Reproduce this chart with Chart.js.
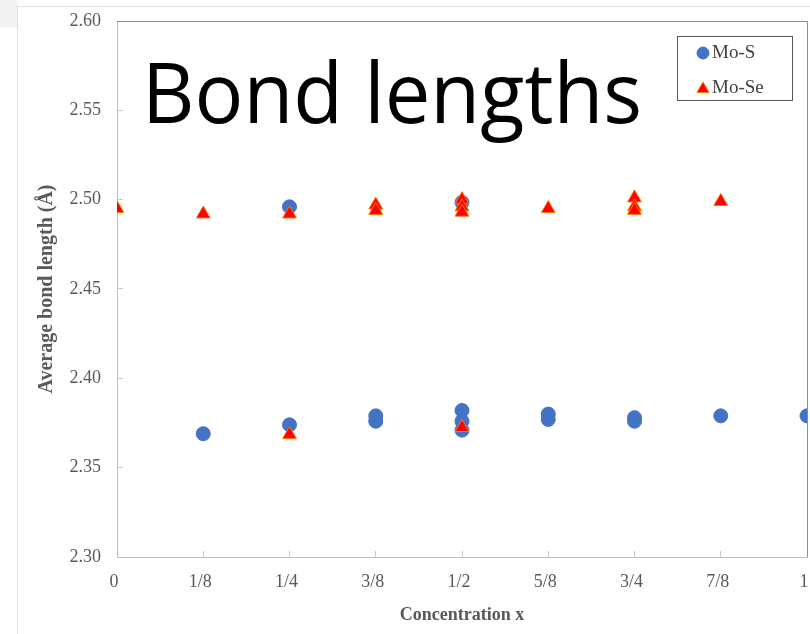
<!DOCTYPE html>
<html>
<head>
<meta charset="utf-8">
<script src="https://cdn.jsdelivr.net/npm/chart.js@4/dist/chart.umd.min.js"></script>
<style>
  html, body { margin: 0; padding: 0; background: #fff; }
  canvas { display: block; }
</style>
</head>
<body>
<canvas id="grafico" width="810" height="634"></canvas>
<script>
// ----------- DATOS ----------
const xTickLabels = ["0", "1/8", "1/4", "3/8", "1/2", "5/8", "3/4", "7/8", "1"];

// Mo-S (circulos azules)
const moSx = [0.125, 0.25, 0.25, 0.375, 0.375, 0.5, 0.5, 0.5, 0.5, 0.625, 0.625, 0.75, 0.75, 0.875, 1];
const moSy = [2.369, 2.374, 2.496, 2.379, 2.376, 2.382, 2.376, 2.371, 2.4985, 2.380, 2.377, 2.378, 2.376, 2.379, 2.379];

// Mo-Se (triangulos rojos)
const moSeX = [0, 0.125, 0.25, 0.25, 0.375, 0.375, 0.5, 0.5, 0.5, 0.5, 0.625, 0.75, 0.75, 0.75, 0.875];
const moSeY = [2.495, 2.492, 2.492, 2.3685, 2.497, 2.494, 2.500, 2.496, 2.493, 2.3725, 2.495, 2.501, 2.496, 2.494, 2.499];

const toPoints = (xs, ys) => xs.map((x, i) => ({ x: x, y: ys[i] }));

const serif = "'Liberation Serif', 'Times New Roman', serif";

// ----------- PLUGINS ----------
const decoracion = {
    id: "decoracion",
    beforeDraw(chart) {
        const ctx = chart.ctx;
        ctx.save();
        ctx.fillStyle = "#f3f3f3";
        ctx.fillRect(0, 0, 18, 28);
        ctx.strokeStyle = "#e2e2e2";
        ctx.lineWidth = 1;
        ctx.beginPath();
        ctx.moveTo(18, 6.5); ctx.lineTo(810, 6.5);
        ctx.moveTo(17.5, 6); ctx.lineTo(17.5, 634);
        ctx.stroke();
        ctx.restore();
    },
    afterDatasetsDraw(chart) {
        const ctx = chart.ctx;
        const a = chart.chartArea;
        ctx.save();
        // marco superior y derecho
        ctx.strokeStyle = "#8c8c8c";
        ctx.lineWidth = 1;
        ctx.beginPath();
        ctx.moveTo(a.left, a.top + 0.5); ctx.lineTo(a.right + 0.5, a.top + 0.5);
        ctx.lineTo(a.right + 0.5, a.bottom);
        ctx.stroke();

        // leyenda con borde
        const lx = 677, ly = 36, lw = 115, lh = 64;
        ctx.fillStyle = "#fff";
        ctx.fillRect(lx, ly, lw, lh);
        ctx.strokeStyle = "#595959";
        ctx.strokeRect(lx + 0.5, ly + 0.5, lw, lh);
        const rows = [53, 88];
        chart.data.datasets.forEach((ds, i) => {
            ctx.fillStyle = ds.backgroundColor;
            ctx.strokeStyle = ds.borderColor;
            ctx.lineWidth = 1;
            Chart.helpers.drawPoint(ctx, {
                pointStyle: ds.pointStyle,
                radius: ds.pointStyle === "triangle" ? 7 : 6,
                borderWidth: 1,
                rotation: 0
            }, 703, rows[i] + (ds.pointStyle === "triangle" ? 1 : 0));
            ctx.fillStyle = "#404040";
            ctx.font = "19px " + serif;
            ctx.textBaseline = "middle";
            ctx.textAlign = "left";
            ctx.fillText(ds.label, 712, rows[i]);
        });

        // texto grande superpuesto
        const texto = "Bond lengths";
        ctx.font = "84px 'Open Sans', sans-serif";
        const w = ctx.measureText(texto).width;
        ctx.translate(142, 123);
        ctx.scale(500 / w, 1);
        ctx.fillStyle = "#000";
        ctx.textBaseline = "alphabetic";
        ctx.fillText(texto, 0, 0);
        ctx.restore();
    }
};

// ----------- GRAFICO ----------
new Chart(document.getElementById("grafico"), {
    type: "scatter",
    data: {
        datasets: [
            {
                label: "Mo-S",
                data: toPoints(moSx, moSy),
                pointStyle: "circle",
                pointRadius: 7,
                pointHoverRadius: 7,
                backgroundColor: "#4472C4",
                borderColor: "#4472C4",
                borderWidth: 1,
                order: 1
            },
            {
                label: "Mo-Se",
                data: toPoints(moSeX, moSeY),
                pointStyle: "triangle",
                pointRadius: 8,
                pointHoverRadius: 8,
                backgroundColor: "#FF0000",
                borderColor: "#FF7A00",
                borderWidth: 1,
                order: 0
            }
        ]
    },
    options: {
        responsive: false,
        animation: false,
        layout: { autoPadding: false, padding: { top: 21, right: 3, left: 0, bottom: 0 } },
        plugins: {
            legend: { display: false },
            tooltip: { enabled: false }
        },
        scales: {
            x: {
                type: "linear",
                min: 0,
                max: 1,
                afterFit(scale) {
                    scale.height = 77;
                    scale.paddingLeft = 0;
                    scale.paddingRight = 0;
                },
                ticks: {
                    stepSize: 0.125,
                    padding: 20,
                    labelOffset: -3,
                    color: "#595959",
                    font: { family: serif, size: 18 },
                    callback: v => xTickLabels[Math.round(v * 8)]
                },
                grid: { drawOnChartArea: false, tickLength: -6, color: "#c8c8c8" },
                border: { color: "#bfbfbf" },
                title: {
                    display: true,
                    text: "Concentration x",
                    color: "#595959",
                    font: { family: serif, size: 18, weight: "bold" },
                    padding: { top: 0, bottom: 8 }
                }
            },
            y: {
                min: 2.30,
                max: 2.60,
                afterFit(scale) {
                    scale.width = 117;
                    scale.paddingTop = 0;
                    scale.paddingBottom = 0;
                },
                ticks: {
                    stepSize: 0.05,
                    padding: 22,
                    color: "#595959",
                    font: { family: serif, size: 18 },
                    callback: v => v.toFixed(2)
                },
                grid: { drawOnChartArea: false, tickLength: -6, color: "#c8c8c8" },
                border: { color: "#bfbfbf" },
                title: {
                    display: true,
                    text: "Average bond length (Å)",
                    color: "#595959",
                    font: { family: serif, size: 20, weight: "bold" },
                    padding: { top: 35, bottom: 0 }
                }
            }
        }
    },
    plugins: [decoracion]
});
</script>
</body>
</html>
